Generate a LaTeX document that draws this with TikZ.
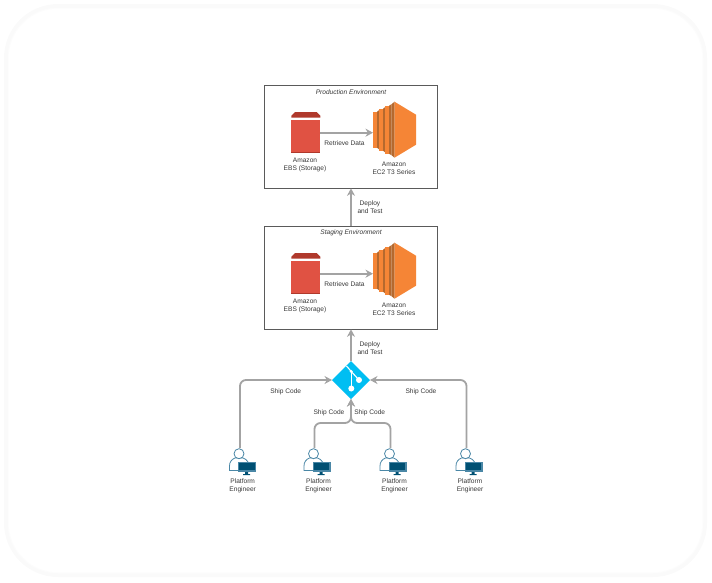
\documentclass[tikz,border=0pt]{standalone}
\usepackage{fontspec}
\setmainfont{Liberation Sans}
\usetikzlibrary{arrows.meta,shapes.geometric}

\definecolor{linegray}{HTML}{A3A3A3}
\definecolor{boxline}{HTML}{5A5A5A}
\definecolor{ebsred}{HTML}{E05243}
\definecolor{ebsdark}{HTML}{B0392C}
\definecolor{ecorange}{HTML}{F58536}
\definecolor{ecdark}{HTML}{B5692E}
\definecolor{gitblue}{HTML}{00BEF2}
\definecolor{userline}{HTML}{4A87A6}
\definecolor{userdark}{HTML}{005073}

\tikzset{
  flow/.style={draw=linegray, line width=1.8pt, -{Stealth[length=7.5pt,width=8pt]}},
  caption/.style={font=\fontsize{6.6}{8}\selectfont, text=black!78, align=center, inner sep=0pt},
  envbox/.style={draw=boxline, line width=.7pt, fill=white, minimum width=173pt, minimum height=103pt},
  envtitle/.style={caption, font=\fontsize{6.6}{8}\selectfont\itshape},
  holder/.style={inner sep=0pt, outer sep=0pt},
  ebsicon/.pic={
    \fill[ebsdark] (-14.5,-15) -- (-14.5,-17) -- (-11,-20.5) -- (11,-20.5) -- (14.5,-17) -- (14.5,-15) -- cycle;
    \fill[ebsred] (-14.5,-13) rectangle (14.5,19.5);
    \fill[ebsdark] (-14.5,19.5) rectangle (14.5,20.5);
  },
  ecicon/.pic={
    \fill[ecdark] (-17.5,-18) -- (-15.5,-19.5) -- (-15.5,19.5) -- (-17.5,18) -- cycle;
    \fill[ecorange] (-21.8,-18) rectangle (-17.5,18);
    \fill[ecdark] (-11.5,-21) -- (-9.5,-22.5) -- (-9.5,22.5) -- (-11.5,21) -- cycle;
    \fill[ecorange] (-15.5,-21) rectangle (-11.5,21);
    \fill[ecdark] (-5.5,-24) -- (-3,-25.5) -- (-3,25.5) -- (-5.5,24) -- cycle;
    \fill[ecorange] (-9.5,-24) rectangle (-5.5,24);
    \fill[ecdark] (-3,-25.5) -- (0,-28) -- (0,28) -- (-3,25.5) -- cycle;
    \fill[ecorange] (0,-28) -- (21.5,-15) -- (21.5,15) -- (0,28) -- cycle;
  },
  gitmark/.pic={
    \draw[white, line width=1.1pt] (-4.5,-14) -- (0.3,-8.5) -- (8,0);
    \draw[white, line width=1.1pt] (0.3,-8.5) -- (0.3,8);
    \fill[white] (0.3,-8.5) circle[radius=1.6pt];
    \fill[white] (8,0) circle[radius=3pt];
    \fill[white] (0.3,8.5) circle[radius=3pt];
  },
  engineericon/.pic={
    \draw[userline, fill=white, line width=.8pt] (-10.5,10.5) -- (-10.5,6) to [out=90,in=200] (-5,-2) -- (3,-2) to [out=-20,in=120] (8,2) -- (8,10.5) -- cycle;
    \draw[userline, fill=white, line width=.8pt] (-1,-6.3) circle[radius=5pt];
    \fill[userline] (-2,1.5) rectangle (16,12);
    \fill[userdark] (-.8,2.7) rectangle (14.8,10);
    \fill[userdark] (5,12) rectangle (8,14) (3,14) rectangle (10,15);
  }
}

\begin{document}
\begin{tikzpicture}[x=1pt,y=-1pt]
      \useasboundingbox (0,0) rectangle (712,582);

      \draw[black!2, line width=4pt, rounded corners=52pt] (6,6) rectangle (705,575);
      \draw[black!1, line width=1pt, fill=white, rounded corners=50pt] (8,8) rectangle (703,573);

      \node[envbox] (prodbox) at (351,136.5) { };
      \node[envbox] (stagebox) at (351,277.5) { };
      \node[envtitle] (prodtitle) at (351,92) {Production Environment};
      \node[envtitle] (stagetitle) at (351,233) {Staging Environment};

      \node[holder, minimum width=29pt, minimum height=41pt] (prodebs) at (305.8,132.7) { };
      \node[holder, minimum width=43pt, minimum height=56pt] (prodec) at (394.5,129.7) { };
      \node[holder, minimum width=29pt, minimum height=41pt] (stageebs) at (305.8,273.7) { };
      \node[holder, minimum width=43pt, minimum height=56pt] (stageec) at (394.5,270.7) { };
      \path (prodebs) pic {ebsicon};
      \path (prodec) pic {ecicon};
      \path (stageebs) pic {ebsicon};
      \path (stageec) pic {ecicon};

      \draw[flow] (prodebs.east) -- (prodebs.east -| prodec.west);
      \draw[flow] (stageebs.east) -- (stageebs.east -| stageec.west);

      \node[caption] (prodretrieve) at (344.5,143) {Retrieve Data};
      \node[caption] (stageretrieve) at (344.5,284) {Retrieve Data};
      \node[caption] (prodstore) at (305,164.5) {Amazon\\EBS (Storage)};
      \node[caption] (stagestore) at (305,305.5) {Amazon\\EBS (Storage)};
      \node[caption] (prodseries) at (394,168.5) {Amazon\\EC2 T3 Series};
      \node[caption] (stageseries) at (394,309.5) {Amazon\\EC2 T3 Series};

      \node[diamond, fill=gitblue, holder, minimum width=38pt, minimum height=38pt] (git) at (351,380) { };
      \path (git) pic {gitmark};

      \draw[flow] (stagebox.north) -- (prodbox.south);
      \draw[flow] (git.north) -- (stagebox.south);
      \node[caption] (deployone) at (370,207) {Deploy\\and Test};
      \node[caption] (deploytwo) at (370,348) {Deploy\\and Test};

      \node[holder, minimum width=24pt, minimum height=24pt] (engone) at (240,460) { };
      \node[holder, minimum width=24pt, minimum height=24pt] (engtwo) at (314.5,460) { };
      \node[holder, minimum width=24pt, minimum height=24pt] (engthree) at (390.5,460) { };
      \node[holder, minimum width=24pt, minimum height=24pt] (engfour) at (466.5,460) { };
      \coordinate (merge) at (351,423);

      \draw[flow, rounded corners=6pt] (engone.north) |- (git.west);
      \draw[flow, rounded corners=6pt] (engfour.north) |- (git.east);
      \draw[flow, rounded corners=6pt] (engtwo.north) |- (merge) -- (git.south);
      \draw[flow, rounded corners=6pt] (engthree.north) |- (merge) -- (git.south);

      \path (engone) pic {engineericon};
      \path (engtwo) pic {engineericon};
      \path (engthree) pic {engineericon};
      \path (engfour) pic {engineericon};

      \node[caption] (shipone) at (285.7,391.5) {Ship Code};
      \node[caption] (shiptwo) at (329,413) {Ship Code};
      \node[caption] (shipthree) at (369.7,413) {Ship Code};
      \node[caption] (shipfour) at (421,391.5) {Ship Code};

      \node[caption] (nameone) at (242.7,485.5) {Platform\\Engineer};
      \node[caption] (nametwo) at (318.5,485.5) {Platform\\Engineer};
      \node[caption] (namethree) at (394.5,485.5) {Platform\\Engineer};
      \node[caption] (namefour) at (470,485.5) {Platform\\Engineer};
    \end{tikzpicture}
\end{document}
